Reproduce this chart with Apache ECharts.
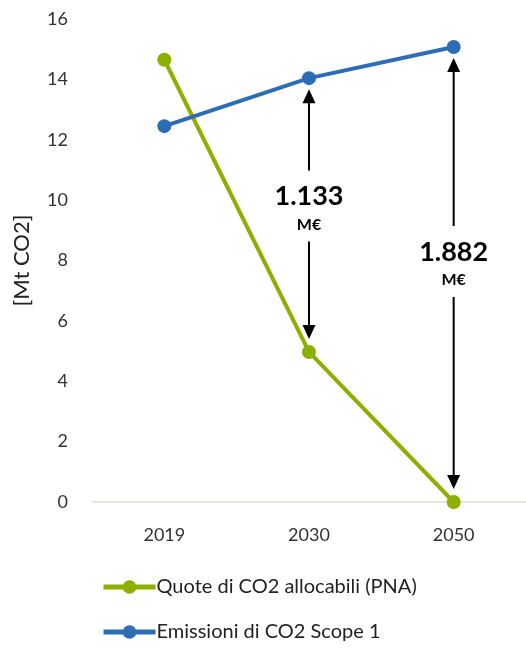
<!DOCTYPE html>
<html>
<head>
<meta charset="utf-8">
<script src="https://cdn.jsdelivr.net/npm/echarts@6/dist/echarts.min.js"></script>
<style>
  html, body { margin: 0; padding: 0; background: #fff; }
  #chart { width: 526px; height: 649px; }
</style>
</head>
<body>
<div id="chart"></div>
<script>
// Years on the category axis
const years = ['2019', '2030', '2050'];
// Allocable CO2 quotas (PNA), Mt CO2
const quoteAllocabili = [14.65, 4.97, 0];
// Scope 1 CO2 emissions, Mt CO2
const emissioniScope1 = [12.45, 14.04, 15.07];
// Cost gaps shown between the two series (years index, label)
const gapYearIndex = [1, 2];
const gapLabels = ['1.133', '1.882'];
const gapUnit = 'M€';

const NAME_QUOTE = 'Quote di CO2 allocabili (PNA)';
const NAME_EMISS = 'Emissioni di CO2 Scope 1';

const GREEN = '#8CB000';
const BLUE = '#2E6CB5';
const FONT = 'Lato, "Open Sans", sans-serif';

const gapData = gapYearIndex.map((i, k) => [i, quoteAllocabili[i], emissioniScope1[i], gapLabels[k]]);

function renderGap(params, api) {
  const idx = api.value(0);
  const lo = api.coord([idx, api.value(1)]);
  const hi = api.coord([idx, api.value(2)]);
  const x = lo[0];
  const topTip = hi[1] + 11;
  const botTip = lo[1] - 13;
  const hw = 6.5, hh = 14;
  const mid = (topTip + botTip) / 2 - (botTip - topTip > 300 ? 12 : 8);
  const label = gapLabels[params.dataIndex];
  return {
    type: 'group',
    children: [
      { type: 'line', shape: { x1: x, y1: topTip + hh - 1, x2: x, y2: botTip - hh + 1 },
        style: { stroke: '#000', lineWidth: 2 } },
      { type: 'polygon', shape: { points: [[x, topTip], [x - hw, topTip + hh], [x + hw, topTip + hh]] },
        style: { fill: '#000' } },
      { type: 'polygon', shape: { points: [[x, botTip], [x - hw, botTip - hh], [x + hw, botTip - hh]] },
        style: { fill: '#000' } },
      { type: 'text', x: x, y: mid,
        style: {
          text: '{v|' + label + '}\n{u|' + gapUnit + '}',
          align: 'center', verticalAlign: 'middle',
          backgroundColor: '#fff', padding: [10, 2, 5, 2],
          rich: {
            v: { fontFamily: FONT, fontWeight: 'bold', fontSize: 27, lineHeight: 32, fill: '#000', align: 'center' },
            u: { fontFamily: FONT, fontWeight: 'bold', fontSize: 16, lineHeight: 24, fill: '#000', align: 'center' }
          }
        } }
    ]
  };
}

const legendCommon = {
  orient: 'vertical',
  left: 96,
  itemWidth: 52,
  itemHeight: 17,
  lineStyle: { width: 5 },
  textStyle: { color: '#222', fontSize: 20, fontFamily: FONT, padding: [0, 0, 0, -4] }
};

const chart = echarts.init(document.getElementById('chart'));
chart.setOption({
  animation: false,
  backgroundColor: '#fff',
  textStyle: { fontFamily: FONT },
  grid: { left: 92, top: 19, bottom: 147, width: 439, containLabel: false },
  xAxis: {
    type: 'category',
    data: years,
    boundaryGap: true,
    axisLine: { lineStyle: { color: '#E3DDD0', width: 1.5 } },
    axisTick: { show: false },
    axisLabel: { color: '#333', fontSize: 18, margin: 24, fontFamily: FONT }
  },
  yAxis: {
    type: 'value',
    min: 0, max: 16, interval: 2,
    name: '[Mt CO2]',
    nameLocation: 'middle',
    nameRotate: 90,
    nameGap: 59,
    nameTextStyle: { color: '#222', fontSize: 22, fontFamily: FONT },
    axisLine: { show: false },
    axisTick: { show: false },
    splitLine: { show: false },
    axisLabel: { color: '#333', fontSize: 18, margin: 24, fontFamily: FONT }
  },
  legend: [
    Object.assign({ top: 572, data: [NAME_QUOTE] }, legendCommon),
    Object.assign({ top: 617, data: [NAME_EMISS] }, legendCommon)
  ],
  series: [
    {
      name: NAME_QUOTE,
      type: 'line',
      data: quoteAllocabili,
      color: GREEN,
      symbol: 'circle',
      symbolSize: 14,
      lineStyle: { width: 4, color: GREEN },
      itemStyle: { color: GREEN }
    },
    {
      name: NAME_EMISS,
      type: 'line',
      data: emissioniScope1,
      color: BLUE,
      symbol: 'circle',
      symbolSize: 14,
      lineStyle: { width: 4, color: BLUE },
      itemStyle: { color: BLUE }
    },
    {
      type: 'custom',
      renderItem: renderGap,
      data: gapData,
      encode: { x: 0, y: [1, 2] },
      z: 5,
      silent: true
    }
  ]
});
</script>
</body>
</html>
